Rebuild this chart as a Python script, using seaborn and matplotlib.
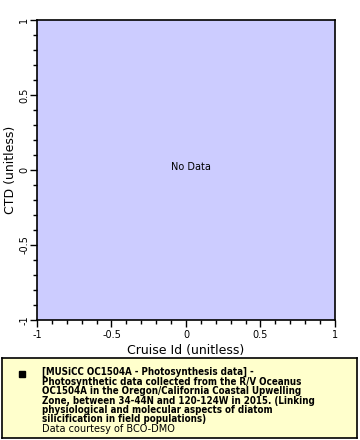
import matplotlib
matplotlib.use("Agg")
import matplotlib.pyplot as plt
import seaborn as sns
import pandas as pd
import numpy as np

# Data (empty: "No Data")
cruise_id = []
ctd = []
x_ticks = [-1, -0.5, 0, 0.5, 1]
x_tick_labels = ["-1", "-0.5", "0", "0.5", "1"]
y_ticks = [-1, -0.5, 0, 0.5, 1]
y_tick_labels = ["-1", "-0.5", "0", "0.5", "1"]
legend_title = ("[MUSiCC OC1504A - Photosynthesis data] -\n"
                "Photosynthetic data collected from the R/V Oceanus\n"
                "OC1504A in the Oregon/California Coastal Upwelling\n"
                "Zone, between 34-44N and 120-124W in 2015. (Linking\n"
                "physiological and molecular aspects of diatom\n"
                "silicification in field populations)")
legend_credit = "Data courtesy of BCO-DMO"

sns.set_style("ticks")
plt.rcParams['font.family'] = ['DejaVu Sans']
plt.rcParams['text.color'] = 'black'
plt.rcParams['axes.labelcolor'] = 'black'
plt.rcParams['xtick.color'] = 'black'
plt.rcParams['ytick.color'] = 'black'

W, H = 360, 440
fig = plt.figure(figsize=(W / 100, H / 100), dpi=100)
ax = fig.add_axes([37 / W, 1 - 320 / H, (335 - 37) / W, (320 - 20) / H])

df = pd.DataFrame({"x": pd.Series(cruise_id, dtype=float),
                   "y": pd.Series(ctd, dtype=float)})
sns.scatterplot(data=df, x="x", y="y", ax=ax)

ax.set_facecolor("#ccccff")
ax.set_xlim(-1, 1)
ax.set_ylim(-1, 1)
ax.set_xticks(x_ticks)
ax.set_xticklabels(x_tick_labels, fontsize=7)
ax.set_yticks(y_ticks)
ax.set_yticklabels(y_tick_labels, fontsize=7, rotation=90, va="center")
ax.set_xticks(np.arange(-1, 1.001, 0.1), minor=True)
ax.set_yticks(np.arange(-1, 1.001, 0.1), minor=True)
ax.tick_params(which="major", direction="out", length=5, width=1, color="black", pad=2)
ax.tick_params(axis="y", which="major", pad=0.5)
ax.tick_params(which="minor", direction="out", length=3, width=1, color="black")
for s in ax.spines.values():
    s.set_linewidth(1.2)
    s.set_color("black")
    s.set_visible(True)
ax.set_xlabel("Cruise Id (unitless)", fontsize=9, labelpad=3)
ax.set_ylabel("CTD (unitless)", fontsize=9, labelpad=2)

ax.text(0.03, 0.02, "No Data", ha="center", va="center", fontsize=7, transform=ax.transData)

# Legend box
lax = fig.add_axes([2 / W, 1 - 438 / H, 355 / W, 80 / H])
lax.set_xlim(0, 355)
lax.set_ylim(80, 0)
lax.set_facecolor("#ffffcc")
lax.set_xticks([])
lax.set_yticks([])
for s in lax.spines.values():
    s.set_linewidth(1.2)
    s.set_color("black")
lax.plot([20], [16], marker="s", color="black", markersize=5, linestyle="none")
lax.text(40, 9, legend_title, fontsize=7, fontweight="bold", fontstretch="condensed",
         va="top", ha="left", linespacing=0.93)
lax.text(40, 66, legend_credit, fontsize=7, va="top", ha="left")

fig.savefig("out.png", dpi=100)
